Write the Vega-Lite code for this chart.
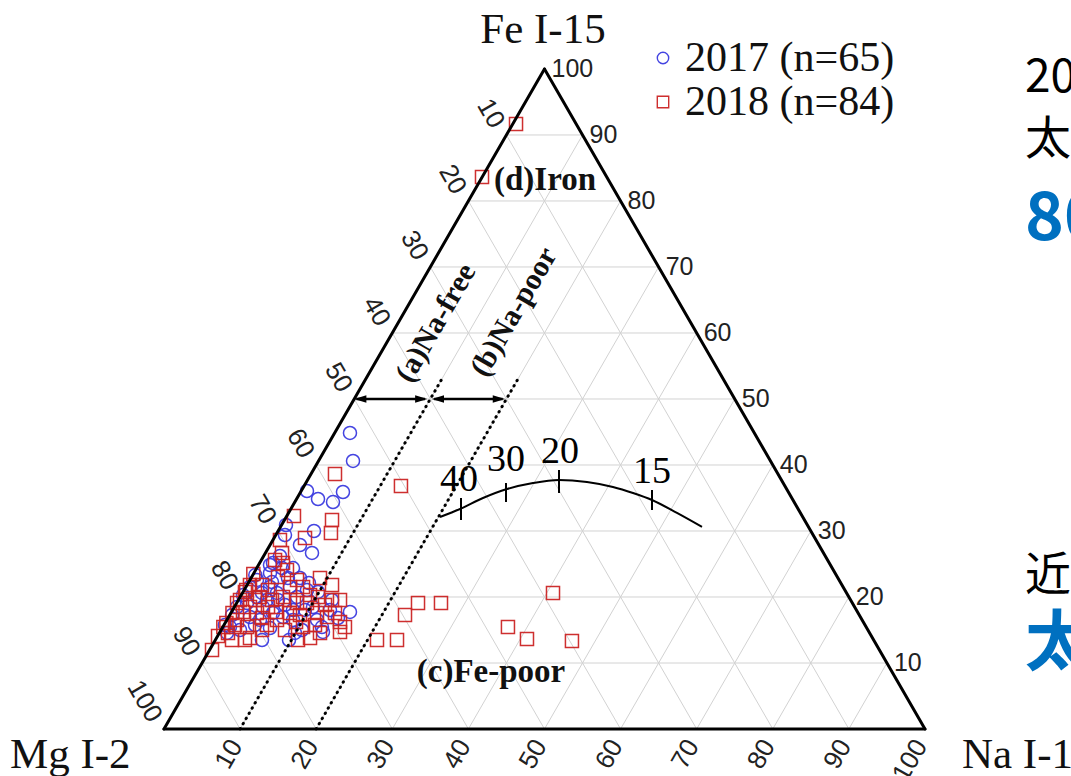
{
  "$schema": "https://vega.github.io/schema/vega-lite/v6.json",
  "width": 1071,
  "height": 776,
  "padding": 0,
  "autosize": {"type": "none"},
  "background": "#ffffff",
  "config": {"view": {"stroke": null}},
  "datasets": {
    "grid": [
      {"x": 5, "y": 10, "x2": 95, "y2": 10}, {"x": 10, "y": 20, "x2": 90, "y2": 20}, {"x": 15, "y": 30, "x2": 85, "y2": 30},
      {"x": 20, "y": 40, "x2": 80, "y2": 40}, {"x": 25, "y": 50, "x2": 75, "y2": 50}, {"x": 30, "y": 60, "x2": 70, "y2": 60},
      {"x": 35, "y": 70, "x2": 65, "y2": 70}, {"x": 40, "y": 80, "x2": 60, "y2": 80}, {"x": 45, "y": 90, "x2": 55, "y2": 90},
      {"x": 10, "y": 0, "x2": 55, "y2": 90}, {"x": 20, "y": 0, "x2": 60, "y2": 80}, {"x": 30, "y": 0, "x2": 65, "y2": 70},
      {"x": 40, "y": 0, "x2": 70, "y2": 60}, {"x": 50, "y": 0, "x2": 75, "y2": 50}, {"x": 60, "y": 0, "x2": 80, "y2": 40},
      {"x": 70, "y": 0, "x2": 85, "y2": 30}, {"x": 80, "y": 0, "x2": 90, "y2": 20}, {"x": 90, "y": 0, "x2": 95, "y2": 10},
      {"x": 10, "y": 0, "x2": 5, "y2": 10}, {"x": 20, "y": 0, "x2": 10, "y2": 20}, {"x": 30, "y": 0, "x2": 15, "y2": 30},
      {"x": 40, "y": 0, "x2": 20, "y2": 40}, {"x": 50, "y": 0, "x2": 25, "y2": 50}, {"x": 60, "y": 0, "x2": 30, "y2": 60},
      {"x": 70, "y": 0, "x2": 35, "y2": 70}, {"x": 80, "y": 0, "x2": 40, "y2": 80}, {"x": 90, "y": 0, "x2": 45, "y2": 90}
    ],
    "frame": [
      {"x": 0, "y": 0, "x2": 100, "y2": 0}, {"x": 100, "y": 0, "x2": 50, "y2": 100}, {"x": 50, "y": 100, "x2": 0, "y2": 0}
    ],
    "dots": [{"x": 10, "y": 0, "x2": 36.5, "y2": 53}, {"x": 20, "y": 0, "x2": 46.5, "y2": 53}],
    "shafts": [{"x": 25.3, "y": 50, "x2": 34.3, "y2": 50}, {"x": 35.5, "y": 50, "x2": 44.5, "y2": 50}],
    "headsL": [{"x": 25.79, "y": 50}, {"x": 35.99, "y": 50}],
    "headsR": [{"x": 33.81, "y": 50}, {"x": 44.01, "y": 50}],
    "curve": [
      {"o": 1, "x": 36.27, "y": 32.12}, {"o": 2, "x": 38.9, "y": 33.33}, {"o": 3, "x": 41.92, "y": 35.0},
      {"o": 4, "x": 45.07, "y": 36.36}, {"o": 5, "x": 48.49, "y": 37.27}, {"o": 6, "x": 51.91, "y": 37.73},
      {"o": 7, "x": 55.58, "y": 37.42}, {"o": 8, "x": 59.0, "y": 36.67}, {"o": 9, "x": 61.63, "y": 35.76},
      {"o": 10, "x": 64.13, "y": 34.7}, {"o": 11, "x": 67.41, "y": 32.73}, {"o": 12, "x": 70.7, "y": 30.61}
    ],
    "cticks": [
      {"x": 39.03, "y": 31.67, "y2": 35.0}, {"x": 44.94, "y": 34.39, "y2": 37.27},
      {"x": 51.91, "y": 35.76, "y2": 39.24}, {"x": 64.13, "y": 33.18, "y2": 36.21}
    ],
    "clabels": [
      {"x": 38.76, "y": 36.06, "t": "40"}, {"x": 44.94, "y": 39.09, "t": "30"},
      {"x": 52.04, "y": 40.3, "t": "20"}, {"x": 64.13, "y": 37.27, "t": "15"}
    ],
    "points": [
      {"s": "2017 (n=65)", "x": 24.44, "y": 44.85}, {"s": "2017 (n=65)", "x": 24.84, "y": 40.61}, {"s": "2017 (n=65)", "x": 18.79, "y": 36.06},
      {"s": "2017 (n=65)", "x": 20.24, "y": 34.85}, {"s": "2017 (n=65)", "x": 22.21, "y": 34.39}, {"s": "2017 (n=65)", "x": 23.52, "y": 35.91},
      {"s": "2017 (n=65)", "x": 16.03, "y": 30.91}, {"s": "2017 (n=65)", "x": 19.71, "y": 30.0}, {"s": "2017 (n=65)", "x": 19.45, "y": 26.67},
      {"s": "2017 (n=65)", "x": 15.9, "y": 29.39}, {"s": "2017 (n=65)", "x": 14.32, "y": 25.15}, {"s": "2017 (n=65)", "x": 13.93, "y": 23.64},
      {"s": "2017 (n=65)", "x": 15.51, "y": 24.39}, {"s": "2017 (n=65)", "x": 16.95, "y": 24.39}, {"s": "2017 (n=65)", "x": 19.05, "y": 22.12},
      {"s": "2017 (n=65)", "x": 24.44, "y": 17.73}, {"s": "2017 (n=65)", "x": 11.3, "y": 21.52}, {"s": "2017 (n=65)", "x": 12.22, "y": 20.0},
      {"s": "2017 (n=65)", "x": 10.91, "y": 19.09}, {"s": "2017 (n=65)", "x": 9.59, "y": 18.48}, {"s": "2017 (n=65)", "x": 13.01, "y": 18.48},
      {"s": "2017 (n=65)", "x": 13.93, "y": 21.52}, {"s": "2017 (n=65)", "x": 14.98, "y": 19.55}, {"s": "2017 (n=65)", "x": 16.56, "y": 21.52},
      {"s": "2017 (n=65)", "x": 17.48, "y": 20.0}, {"s": "2017 (n=65)", "x": 18.79, "y": 21.06}, {"s": "2017 (n=65)", "x": 16.95, "y": 18.03},
      {"s": "2017 (n=65)", "x": 15.64, "y": 16.97}, {"s": "2017 (n=65)", "x": 14.32, "y": 17.58}, {"s": "2017 (n=65)", "x": 11.3, "y": 16.97},
      {"s": "2017 (n=65)", "x": 12.61, "y": 16.52}, {"s": "2017 (n=65)", "x": 8.67, "y": 15.45}, {"s": "2017 (n=65)", "x": 8.28, "y": 14.55},
      {"s": "2017 (n=65)", "x": 9.99, "y": 15.0}, {"s": "2017 (n=65)", "x": 20.11, "y": 16.52}, {"s": "2017 (n=65)", "x": 20.76, "y": 15.45},
      {"s": "2017 (n=65)", "x": 20.89, "y": 14.7}, {"s": "2017 (n=65)", "x": 22.08, "y": 19.55}, {"s": "2017 (n=65)", "x": 21.81, "y": 18.03},
      {"s": "2017 (n=65)", "x": 18.13, "y": 15.0}, {"s": "2017 (n=65)", "x": 17.21, "y": 14.55}, {"s": "2017 (n=65)", "x": 16.95, "y": 16.52},
      {"s": "2017 (n=65)", "x": 19.58, "y": 18.48}, {"s": "2017 (n=65)", "x": 13.53, "y": 19.55}, {"s": "2017 (n=65)", "x": 14.85, "y": 20.61},
      {"s": "2017 (n=65)", "x": 12.22, "y": 22.58}, {"s": "2017 (n=65)", "x": 13.93, "y": 24.85}, {"s": "2017 (n=65)", "x": 10.38, "y": 20.3},
      {"s": "2017 (n=65)", "x": 8.94, "y": 17.27}, {"s": "2017 (n=65)", "x": 12.88, "y": 20.61}, {"s": "2017 (n=65)", "x": 15.9, "y": 18.79},
      {"s": "2017 (n=65)", "x": 17.87, "y": 22.88}, {"s": "2017 (n=65)", "x": 16.29, "y": 22.88}, {"s": "2017 (n=65)", "x": 14.19, "y": 22.27},
      {"s": "2017 (n=65)", "x": 11.96, "y": 15.76}, {"s": "2017 (n=65)", "x": 13.93, "y": 15.3}, {"s": "2017 (n=65)", "x": 18.53, "y": 18.03},
      {"s": "2017 (n=65)", "x": 20.24, "y": 20.76}, {"s": "2017 (n=65)", "x": 22.86, "y": 16.82}, {"s": "2017 (n=65)", "x": 12.0, "y": 23.33},
      {"s": "2017 (n=65)", "x": 15.24, "y": 26.21}, {"s": "2017 (n=65)", "x": 17.87, "y": 27.88}, {"s": "2017 (n=65)", "x": 8.0, "y": 15.76},
      {"s": "2017 (n=65)", "x": 16.43, "y": 13.48}, {"s": "2017 (n=65)", "x": 12.88, "y": 13.48},
      {"s": "2018 (n=84)", "x": 46.26, "y": 91.67}, {"s": "2018 (n=84)", "x": 41.79, "y": 83.64}, {"s": "2018 (n=84)", "x": 22.47, "y": 38.64},
      {"s": "2018 (n=84)", "x": 31.14, "y": 36.82}, {"s": "2018 (n=84)", "x": 17.08, "y": 32.27}, {"s": "2018 (n=84)", "x": 22.08, "y": 31.67},
      {"s": "2018 (n=84)", "x": 21.94, "y": 29.7}, {"s": "2018 (n=84)", "x": 18.53, "y": 28.94}, {"s": "2018 (n=84)", "x": 15.24, "y": 28.64},
      {"s": "2018 (n=84)", "x": 15.51, "y": 26.67}, {"s": "2018 (n=84)", "x": 15.64, "y": 25.15}, {"s": "2018 (n=84)", "x": 22.08, "y": 21.82},
      {"s": "2018 (n=84)", "x": 22.08, "y": 19.55}, {"s": "2018 (n=84)", "x": 31.67, "y": 17.27}, {"s": "2018 (n=84)", "x": 27.99, "y": 13.48},
      {"s": "2018 (n=84)", "x": 30.62, "y": 13.48}, {"s": "2018 (n=84)", "x": 6.31, "y": 11.97}, {"s": "2018 (n=84)", "x": 11.3, "y": 13.79},
      {"s": "2018 (n=84)", "x": 23.13, "y": 14.7}, {"s": "2018 (n=84)", "x": 23.78, "y": 15.45}, {"s": "2018 (n=84)", "x": 19.19, "y": 13.79},
      {"s": "2018 (n=84)", "x": 20.5, "y": 14.55}, {"s": "2018 (n=84)", "x": 18.27, "y": 15.45}, {"s": "2018 (n=84)", "x": 16.56, "y": 17.58},
      {"s": "2018 (n=84)", "x": 9.0, "y": 17.58}, {"s": "2018 (n=84)", "x": 8.2, "y": 16.06}, {"s": "2018 (n=84)", "x": 9.6, "y": 19.09},
      {"s": "2018 (n=84)", "x": 10.64, "y": 20.76}, {"s": "2018 (n=84)", "x": 11.3, "y": 21.82}, {"s": "2018 (n=84)", "x": 9.99, "y": 19.55},
      {"s": "2018 (n=84)", "x": 12.61, "y": 20.0}, {"s": "2018 (n=84)", "x": 13.67, "y": 18.48}, {"s": "2018 (n=84)", "x": 14.85, "y": 16.52},
      {"s": "2018 (n=84)", "x": 15.64, "y": 20.0}, {"s": "2018 (n=84)", "x": 17.48, "y": 22.58}, {"s": "2018 (n=84)", "x": 16.56, "y": 21.52},
      {"s": "2018 (n=84)", "x": 18.27, "y": 21.52}, {"s": "2018 (n=84)", "x": 13.53, "y": 15.76}, {"s": "2018 (n=84)", "x": 9.59, "y": 16.52},
      {"s": "2018 (n=84)", "x": 10.91, "y": 15.45}, {"s": "2018 (n=84)", "x": 7.8, "y": 15.45}, {"s": "2018 (n=84)", "x": 8.41, "y": 14.55},
      {"s": "2018 (n=84)", "x": 12.22, "y": 17.58}, {"s": "2018 (n=84)", "x": 20.11, "y": 17.58}, {"s": "2018 (n=84)", "x": 21.42, "y": 16.97},
      {"s": "2018 (n=84)", "x": 22.47, "y": 17.58}, {"s": "2018 (n=84)", "x": 18.79, "y": 19.09}, {"s": "2018 (n=84)", "x": 14.98, "y": 23.03},
      {"s": "2018 (n=84)", "x": 14.59, "y": 25.61}, {"s": "2018 (n=84)", "x": 16.16, "y": 24.09}, {"s": "2018 (n=84)", "x": 17.48, "y": 19.09},
      {"s": "2018 (n=84)", "x": 11.3, "y": 18.48}, {"s": "2018 (n=84)", "x": 20.24, "y": 20.0}, {"s": "2018 (n=84)", "x": 33.38, "y": 19.09},
      {"s": "2018 (n=84)", "x": 36.4, "y": 19.09}, {"s": "2018 (n=84)", "x": 51.12, "y": 20.61}, {"s": "2018 (n=84)", "x": 45.2, "y": 15.45},
      {"s": "2018 (n=84)", "x": 47.7, "y": 13.64}, {"s": "2018 (n=84)", "x": 53.61, "y": 13.33}, {"s": "2018 (n=84)", "x": 12.88, "y": 15.0},
      {"s": "2018 (n=84)", "x": 14.19, "y": 19.55}, {"s": "2018 (n=84)", "x": 11.96, "y": 19.55}, {"s": "2018 (n=84)", "x": 10.8, "y": 21.06},
      {"s": "2018 (n=84)", "x": 12.88, "y": 21.82}, {"s": "2018 (n=84)", "x": 19.84, "y": 15.76}, {"s": "2018 (n=84)", "x": 21.16, "y": 18.79},
      {"s": "2018 (n=84)", "x": 23.13, "y": 16.21}, {"s": "2018 (n=84)", "x": 17.87, "y": 17.27}, {"s": "2018 (n=84)", "x": 15.9, "y": 15.0},
      {"s": "2018 (n=84)", "x": 10.38, "y": 17.73}, {"s": "2018 (n=84)", "x": 7.1, "y": 14.09}, {"s": "2018 (n=84)", "x": 14.72, "y": 17.73},
      {"s": "2018 (n=84)", "x": 19.19, "y": 20.3}, {"s": "2018 (n=84)", "x": 11.74, "y": 23.48}, {"s": "2018 (n=84)", "x": 13.67, "y": 21.06},
      {"s": "2018 (n=84)", "x": 16.56, "y": 19.55}, {"s": "2018 (n=84)", "x": 8.94, "y": 13.48}, {"s": "2018 (n=84)", "x": 17.61, "y": 13.48},
      {"s": "2018 (n=84)", "x": 12.88, "y": 16.82}, {"s": "2018 (n=84)", "x": 9.33, "y": 15.76}, {"s": "2018 (n=84)", "x": 20.5, "y": 22.88},
      {"s": "2018 (n=84)", "x": 17.35, "y": 16.21}, {"s": "2018 (n=84)", "x": 10.64, "y": 13.48}, {"s": "2018 (n=84)", "x": 23.13, "y": 19.55}
    ],
    "feLabels": [
      {"x": 95, "y": 10, "t": "10"}, {"x": 90, "y": 20, "t": "20"}, {"x": 85, "y": 30, "t": "30"}, {"x": 80, "y": 40, "t": "40"},
      {"x": 75, "y": 50, "t": "50"}, {"x": 70, "y": 60, "t": "60"}, {"x": 65, "y": 70, "t": "70"}, {"x": 60, "y": 80, "t": "80"},
      {"x": 55, "y": 90, "t": "90"}, {"x": 50, "y": 100, "t": "100"}
    ],
    "mgLabels": [
      {"x": 45, "y": 90, "t": "10"}, {"x": 40, "y": 80, "t": "20"}, {"x": 35, "y": 70, "t": "30"}, {"x": 30, "y": 60, "t": "40"},
      {"x": 25, "y": 50, "t": "50"}, {"x": 20, "y": 40, "t": "60"}, {"x": 15, "y": 30, "t": "70"}, {"x": 10, "y": 20, "t": "80"},
      {"x": 5, "y": 10, "t": "90"}, {"x": 0, "y": 0, "t": "100"}
    ],
    "naLabels": [
      {"x": 10, "y": 0, "t": "10"}, {"x": 20, "y": 0, "t": "20"}, {"x": 30, "y": 0, "t": "30"}, {"x": 40, "y": 0, "t": "40"},
      {"x": 50, "y": 0, "t": "50"}, {"x": 60, "y": 0, "t": "60"}, {"x": 70, "y": 0, "t": "70"}, {"x": 80, "y": 0, "t": "80"},
      {"x": 90, "y": 0, "t": "90"}, {"x": 100, "y": 0, "t": "100"}
    ],
    "topTitle": [{"x": 49.8, "y": 103.94, "t": "Fe I-15"}],
    "cornerTitles": [{"x": -20.24, "y": -5.91, "t": "Mg I-2"}, {"x": 104.86, "y": -5.91, "t": "Na I-1"}],
    "slantLabels": [{"x": 35.74, "y": 61.52, "t": "(a)Na-free"}, {"x": 45.99, "y": 63.18, "t": "(b)Na-poor"}],
    "flatLabels": [{"x": 50.07, "y": 81.67, "t": "(d)Iron"}, {"x": 42.97, "y": 7.12, "t": "(c)Fe-poor"}],
    "sideText": [{"x": 113.14, "y": 96.52, "t": "20"}, {"x": 113.14, "y": 87.12, "t": "太"}, {"x": 113.14, "y": 21.06, "t": "近"}],
    "sideBlue": [{"x": 113.14, "y": 74.09, "t": "80"}, {"x": 113.14, "y": 9.7, "t": "太"}]
  },
  "encoding": {
    "x": {"field": "x", "type": "quantitative", "scale": {"domain": [-21.55, 119.19], "nice": false, "zero": false}, "axis": null},
    "y": {"field": "y", "type": "quantitative", "scale": {"domain": [-7.12, 110.45], "nice": false, "zero": false}, "axis": null}
  },
  "layer": [
    {
      "data": {"name": "grid"},
      "mark": {"type": "rule", "color": "#d2d2d2", "strokeWidth": 1},
      "encoding": {"x2": {"field": "x2"}, "y2": {"field": "y2"}}
    },
    {
      "data": {"name": "points"},
      "mark": {"type": "point", "filled": false, "size": 170, "strokeWidth": 1.5, "opacity": 0.95},
      "encoding": {
        "color": {
          "field": "s", "type": "nominal",
          "scale": {"domain": ["2017 (n=65)", "2018 (n=84)"], "range": ["#3a3ae0", "#cc2424"]},
          "legend": {"title": null, "orient": "none", "legendX": 642, "legendY": 37, "labelFont": "Liberation Serif", "labelFontSize": 42, "labelColor": "#111111", "labelOffset": 1, "symbolSize": 130, "symbolStrokeWidth": 1.4, "rowPadding": 2, "padding": 0, "labelLimit": 400}
        },
        "shape": {
          "field": "s", "type": "nominal",
          "scale": {"domain": ["2017 (n=65)", "2018 (n=84)"], "range": ["circle", "square"]},
          "legend": {"title": null, "orient": "none", "legendX": 642, "legendY": 37, "labelFont": "Liberation Serif", "labelFontSize": 42, "labelColor": "#111111", "labelOffset": 1, "symbolSize": 130, "symbolStrokeWidth": 1.4, "rowPadding": 2, "padding": 0, "labelLimit": 400}
        }
      }
    },
    {
      "data": {"name": "frame"},
      "mark": {"type": "rule", "color": "#000000", "strokeWidth": 3, "strokeCap": "round"},
      "encoding": {"x2": {"field": "x2"}, "y2": {"field": "y2"}}
    },
    {
      "data": {"name": "dots"},
      "mark": {"type": "rule", "color": "#000000", "strokeWidth": 3, "strokeCap": "round", "strokeDash": [0.5, 5.5]},
      "encoding": {"x2": {"field": "x2"}, "y2": {"field": "y2"}}
    },
    {
      "data": {"name": "shafts"},
      "mark": {"type": "rule", "color": "#000000", "strokeWidth": 2.5},
      "encoding": {"x2": {"field": "x2"}, "y2": {"field": "y2"}}
    },
    {
      "data": {"name": "headsL"},
      "mark": {"type": "point", "shape": "M -1 0 L 1 -0.6 L 1 0.6 Z", "filled": true, "color": "#000000", "size": 150, "opacity": 1}
    },
    {
      "data": {"name": "headsR"},
      "mark": {"type": "point", "shape": "M 1 0 L -1 -0.6 L -1 0.6 Z", "filled": true, "color": "#000000", "size": 150, "opacity": 1}
    },
    {
      "data": {"name": "curve"},
      "mark": {"type": "line", "color": "#000000", "strokeWidth": 2, "interpolate": "monotone"},
      "encoding": {"order": {"field": "o", "type": "quantitative"}}
    },
    {
      "data": {"name": "cticks"},
      "mark": {"type": "rule", "color": "#000000", "strokeWidth": 2},
      "encoding": {"y2": {"field": "y2"}}
    },
    {
      "data": {"name": "clabels"},
      "mark": {"type": "text", "font": "Liberation Serif", "fontSize": 38, "align": "center", "baseline": "alphabetic", "color": "#000000"},
      "encoding": {"text": {"field": "t"}}
    },
    {
      "data": {"name": "feLabels"},
      "mark": {"type": "text", "font": "Liberation Sans", "fontSize": 25, "align": "left", "baseline": "middle", "dx": 7, "color": "#222222"},
      "encoding": {"text": {"field": "t"}}
    },
    {
      "data": {"name": "mgLabels"},
      "mark": {"type": "text", "font": "Liberation Sans", "fontSize": 26, "align": "right", "baseline": "middle", "angle": 60, "dx": -12, "dy": 3, "color": "#222222"},
      "encoding": {"text": {"field": "t"}}
    },
    {
      "data": {"name": "naLabels"},
      "mark": {"type": "text", "font": "Liberation Sans", "fontSize": 26, "align": "right", "baseline": "middle", "angle": -60, "dx": -13, "dy": 3, "color": "#222222"},
      "encoding": {"text": {"field": "t"}}
    },
    {
      "data": {"name": "topTitle"},
      "mark": {"type": "text", "font": "Liberation Serif", "fontSize": 43, "align": "center", "baseline": "alphabetic", "color": "#111111"},
      "encoding": {"text": {"field": "t"}}
    },
    {
      "data": {"name": "cornerTitles"},
      "mark": {"type": "text", "font": "Liberation Serif", "fontSize": 43, "align": "left", "baseline": "alphabetic", "color": "#111111"},
      "encoding": {"text": {"field": "t"}}
    },
    {
      "data": {"name": "slantLabels"},
      "mark": {"type": "text", "font": "Liberation Serif", "fontWeight": "bold", "fontSize": 30, "align": "center", "baseline": "middle", "angle": -60, "color": "#111111"},
      "encoding": {"text": {"field": "t"}}
    },
    {
      "data": {"name": "flatLabels"},
      "mark": {"type": "text", "font": "Liberation Serif", "fontWeight": "bold", "fontSize": 33, "align": "center", "baseline": "alphabetic", "color": "#111111"},
      "encoding": {"text": {"field": "t"}}
    },
    {
      "data": {"name": "sideText"},
      "mark": {"type": "text", "font": "Noto Sans CJK JP", "fontSize": 46, "align": "left", "baseline": "alphabetic", "color": "#000000"},
      "encoding": {"text": {"field": "t"}}
    },
    {
      "data": {"name": "sideBlue"},
      "mark": {"type": "text", "font": "Noto Sans CJK JP", "fontWeight": "bold", "fontSize": 66, "align": "left", "baseline": "alphabetic", "color": "#0070c0"},
      "encoding": {"text": {"field": "t"}}
    }
  ]
}
